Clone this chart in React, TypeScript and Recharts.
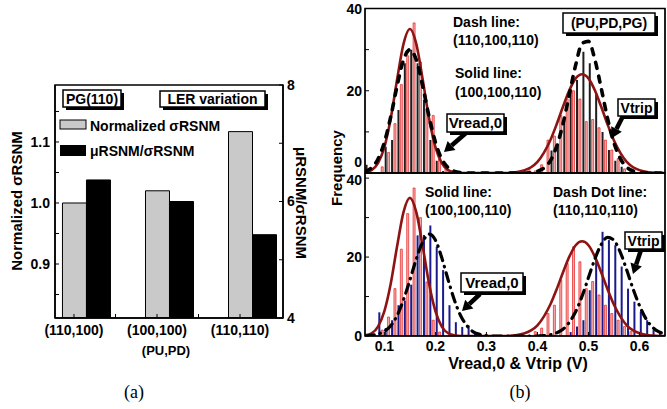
import React from "react";
import { BarChart, Bar, XAxis, YAxis, ComposedChart, Line } from "recharts";

const FONT = "'Liberation Sans', Arial, Helvetica, sans-serif";
const _ = null;

// ---- (a) normalized sigma RSNM vs. LER configuration ----
const configs = ["(110,100)", "(100,100)", "(110,110)"];
const configPos = [0, 1, 2];
const normSigma = [1.0, 1.02, 1.117];
const muOverSigma = [6.37, 6.0, 5.43];
const leftTicksA = [0.85, 0.9, 0.95, 1.0, 1.05, 1.1, 1.15];
const rightTicksA = [4, 5, 6, 7, 8];
const xTicksA = [0, 0.5, 1, 1.5, 2];

// ---- (b) histograms of Vread,0 and Vtrip ----
const vGrid = [
  0.0625, 0.075, 0.0875, 0.1, 0.1125, 0.125, 0.1375, 0.15, 0.1625, 0.175, 0.1875, 0.2,
  0.2125, 0.225, 0.2375, 0.25, 0.2625, 0.275, 0.2875, 0.3, 0.3125, 0.325, 0.3375, 0.35,
  0.3625, 0.375, 0.3875, 0.4, 0.4125, 0.425, 0.4375, 0.45, 0.4625, 0.475, 0.4875, 0.5,
  0.5125, 0.525, 0.5375, 0.55, 0.5625, 0.575, 0.5875, 0.6, 0.6125, 0.625, 0.6375, 0.65,
];
// (100,100,110) histogram, top panel
const topSolidHist = [
  _, _, _, 1.5, 5, 12, 21.5, 28.5, 36.5, 27, 15.5, 14, 4, 1, _, _, _, _, _, _, _, _, _, _,
  _, _, 1, 0.5, 2, 8, 9, 14, 18, 20, 18, 12.5, 13, 11, 8, 5.6, 3.5, 1, 0.5, _, _, _, _, _,
];
// (110,100,110) histogram, top panel
const topDashHist = [
  2, _, _, 6.4, 8, 15.3, 26.7, 30, 26.7, 17.8, 8, 3, 0.5, _, _, _, _, _, _, _, _, _, _, _,
  _, _, _, 0.3, _, 5.5, 7, 13, 20, 22.6, 29.5, 26.7, 19.4, 10, 5.6, 3, 1.5, _, _, _, _, _, _, _,
];
// (100,100,110) histogram, bottom panel
const botSolidHist = [
  _, _, _, 1.5, 4.8, 12, 22, 31, 37.5, 30, 13.7, 4, 1, _, _, _, _, _, _, _, _, _, _, _,
  _, _, _, 1.1, 2, 5.7, 7.8, 14.2, 18.4, 22.6, 18.8, 12, 13.8, 10.4, 7.8, 5.7, 4, 2.4, 1.1, _, _, _, _, _,
];
// (110,110,110) histogram, bottom panel
const botDashDotHist = [
  _, _, 6, 2, 4, 7.8, 9, 13, 25.5, 25.6, 28, 22.6, 16.7, 7.8, 3.5, 2.3, 2.7, 0.8, _, _, _, _, _, _,
  _, _, _, _, _, _, _, _, 1, 2.4, 4, 11.6, 19.2, 26.4, 24.3, 23, 17.6, 12, 8.7, 6.2, 4, 1.5, 1.1, _,
];
// fitted curves
const solidCurve = [
  0.2, 0.7, 2.4, 6.3, 13.3, 22.8, 31.4, 35, 31.4, 22.8, 13.3, 6.3, 2.4, 0.7, 0.2, 0, 0, 0, 0, 0, 0, 0, 0, 0.1,
  0.3, 0.7, 1.4, 2.7, 4.9, 7.9, 11.8, 16.1, 20.1, 23, 24, 23, 20.1, 16.1, 11.8, 7.9, 4.9, 2.7, 1.4, 0.7, 0.3, 0.1, 0, 0,
];
const topDashCurve = [
  0.4, 1.3, 3.4, 7.5, 13.7, 21.2, 27.5, 30, 27.5, 21.2, 13.7, 7.5, 3.4, 1.3, 0.4, 0.1, 0, 0, 0, 0, 0, 0, 0, 0,
  0, 0, 0.1, 0.4, 1.2, 2.9, 6.4, 11.9, 19.1, 26.3, 31.5, 32, 27.6, 20.6, 13.2, 7.3, 3.5, 1.4, 0.5, 0.1, 0, 0, 0, 0,
];
const botDashDotCurve = [
  0, 0.2, 0.5, 1.2, 2.6, 5.2, 9.2, 14.2, 19.5, 23.8, 25.8, 24.3, 19.8, 14.2, 9.0, 5.0, 2.5, 1.0, 0.4, 0.1, 0, 0, 0, 0,
  0, 0, 0, 0, 0.1, 0.3, 0.8, 1.7, 3.5, 6.2, 10.1, 14.8, 19.5, 23.2, 25, 24.2, 21.2, 16.7, 11.9, 7.7, 4.4, 2.3, 1.1, 0.5,
];
const freqTicks = [0, 10, 20, 30, 40];
const voltTicks = [0.1, 0.2, 0.3, 0.4, 0.5, 0.6];

const dataA = configPos.map((p, i) => ({ pos: p, norm: normSigma[i], ratio: muOverSigma[i] }));
const topData = vGrid.map((v, i) => ({
  v, red: topSolidHist[i], other: topDashHist[i], solid: solidCurve[i], dash: topDashCurve[i],
}));
const botData = vGrid.map((v, i) => ({
  v, red: botSolidHist[i], other: botDashDotHist[i], solid: solidCurve[i], dashdot: botDashDotCurve[i],
}));

const bold = { fontFamily: FONT, fontWeight: "bold" as const, fill: "#000" };

function GroupTick({ x, y, payload }: any) {
  const v = payload.value;
  const cx = x - 12;
  const isMajor = Number.isInteger(v);
  return (
    <g>
      <line x1={cx} x2={cx} y1={y} y2={y - 4} stroke="#000" strokeWidth={1} />
      {isMajor && (
        <text x={cx} y={y + 17} textAnchor="middle" fontSize={14} {...bold}>
          {configs[v]}
        </text>
      )}
      {v === 1 && (
        <text x={cx + 9} y={y + 37} textAnchor="middle" fontSize={13} {...bold}>
          (PU,PD)
        </text>
      )}
    </g>
  );
}

function PanelA() {
  return (
    <BarChart width={330} height={409} data={dataA} barGap={0}
      margin={{ top: 85, right: 7, bottom: 61, left: 10 }}>
      <XAxis dataKey="pos" type="number" domain={[-0.373, 2.373]} ticks={xTicksA} allowDataOverflow
        height={30} tickLine={false} tickSize={0} tickMargin={0} interval={0}
        axisLine={{ stroke: "#000", strokeWidth: 1.5 }} tick={(p: any) => <GroupTick {...p} />} />
      <YAxis yAxisId="l" width={45} domain={[0.8115, 1.1934]} ticks={leftTicksA} allowDataOverflow interval={0}
        tickSize={-4} tickMargin={9} axisLine={{ stroke: "#000", strokeWidth: 1.5 }} tickLine={{ stroke: "#000" }}
        tickFormatter={(v: number) => (Math.round(v * 100) % 10 === 0 ? v.toFixed(1) : "")}
        tick={{ fontSize: 14, ...bold }} />
      <YAxis yAxisId="r" orientation="right" width={40} domain={[4, 8]} ticks={rightTicksA} allowDataOverflow interval={0}
        tickSize={-4} tickMargin={8} axisLine={{ stroke: "#000", strokeWidth: 1.5 }} tickLine={{ stroke: "#000" }}
        tickFormatter={(v: number) => (v % 2 === 0 ? String(v) : "")}
        tick={{ fontSize: 14, ...bold }} />
      <Bar yAxisId="l" dataKey="norm" fill="#c9c9c9" stroke="#000" strokeWidth={1} barSize={24} isAnimationActive={false} />
      <Bar yAxisId="r" dataKey="ratio" fill="#000" stroke="#000" strokeWidth={1} barSize={24} isAnimationActive={false} />
    </BarChart>
  );
}

function FreqTick({ x, y, payload, lift0, lift40 }: any) {
  const v = payload.value;
  if (v % 20 !== 0) return null;
  const shift = v === 0 ? lift0 : v === 40 ? lift40 : 0;
  return (
    <text x={x} y={y - shift} dy={5} textAnchor="end" fontSize={14} {...bold}>
      {v}
    </text>
  );
}

const redBar = { fill: "#f6b0b0", stroke: "#e41d1d", strokeWidth: 0.7 };

function TopHist() {
  return (
    <ComposedChart width={337} height={180} data={topData} barGap={1.5}
      margin={{ top: 8.5, right: 1, bottom: 6, left: 15 }}>
      <XAxis dataKey="v" type="number" domain={[0.062, 0.65]} ticks={voltTicks} allowDataOverflow
        height={1} tick={false} tickSize={-4} axisLine={{ stroke: "#000" }} tickLine={{ stroke: "#000" }} />
      <YAxis width={20} domain={[0, 40]} ticks={freqTicks} allowDataOverflow interval={0}
        tickSize={-4} tickMargin={7} axisLine={{ stroke: "#000" }} tickLine={{ stroke: "#000" }}
        tick={(p: any) => <FreqTick {...p} lift0={11} lift40={0} />} />
      <YAxis yAxisId="m" orientation="right" width={1} domain={[0, 40]} ticks={freqTicks} interval={0}
        tick={false} tickSize={-4} axisLine={{ stroke: "#000" }} tickLine={{ stroke: "#000" }} />
      <Bar dataKey="red" barSize={2} {...redBar} isAnimationActive={false} />
      <Bar dataKey="other" barSize={2} fill="#1e1e1e" isAnimationActive={false} />
      <Line dataKey="solid" type="monotone" stroke="#8e1414" strokeWidth={2.6} dot={false} activeDot={false} isAnimationActive={false} />
      <Line dataKey="dash" type="monotone" stroke="#000" strokeWidth={3.6} strokeDasharray="6 8" strokeLinecap="round"
        dot={false} activeDot={false} isAnimationActive={false} />
    </ComposedChart>
  );
}

function BottomHist() {
  return (
    <ComposedChart width={337} height={239} data={botData} barGap={1.5}
      margin={{ top: 3, right: 1, bottom: 33, left: 15 }}>
      <XAxis dataKey="v" type="number" domain={[0.062, 0.65]} ticks={voltTicks} allowDataOverflow interval={0}
        height={40} tickSize={-4} tickMargin={9} axisLine={{ stroke: "#000" }} tickLine={{ stroke: "#000" }}
        tickFormatter={(v: number) => v.toFixed(1)} tick={{ fontSize: 14, ...bold }} />
      <YAxis width={20} domain={[0, 41.3]} ticks={freqTicks} allowDataOverflow interval={0}
        tickSize={-4} tickMargin={7} axisLine={{ stroke: "#000" }} tickLine={{ stroke: "#000" }}
        tick={(p: any) => <FreqTick {...p} lift0={0} lift40={-2} />} />
      <YAxis yAxisId="m" orientation="right" width={1} domain={[0, 41.3]} ticks={freqTicks} interval={0}
        tick={false} tickSize={-4} axisLine={{ stroke: "#000" }} tickLine={{ stroke: "#000" }} />
      <Bar dataKey="red" barSize={2} {...redBar} isAnimationActive={false} />
      <Bar dataKey="other" barSize={2} fill="#1a1a8c" isAnimationActive={false} />
      <Line dataKey="solid" type="monotone" stroke="#8e1414" strokeWidth={2.6} dot={false} activeDot={false} isAnimationActive={false} />
      <Line dataKey="dashdot" type="monotone" stroke="#000" strokeWidth={3.2} strokeDasharray="9 6 0.5 6" strokeLinecap="round"
        dot={false} activeDot={false} isAnimationActive={false} />
    </ComposedChart>
  );
}

function Box({ x, y, w, h, text, fs = 14 }: any) {
  return (
    <g>
      <rect x={x + 3} y={y + 3} width={w} height={h} fill="#000" />
      <rect x={x} y={y} width={w} height={h} fill="#fff" stroke="#000" strokeWidth={1.5} />
      <text x={x + w / 2} y={y + h / 2 + fs * 0.36} textAnchor="middle" fontSize={fs} {...bold}>{text}</text>
    </g>
  );
}

function Arrow({ x1, y1, x2, y2 }: any) {
  const a = Math.atan2(y2 - y1, x2 - x1);
  const hl = 10, hw = 6;
  const bx = x2 - hl * Math.cos(a), by = y2 - hl * Math.sin(a);
  const px = -Math.sin(a) * hw, py = Math.cos(a) * hw;
  return (
    <g>
      <line x1={x1} y1={y1} x2={bx} y2={by} stroke="#000" strokeWidth={4.5} />
      <polygon points={`${x2},${y2} ${bx + px},${by + py} ${bx - px},${by - py}`} fill="#000" />
    </g>
  );
}

function Overlay() {
  return (
    <svg width={667} height={409} style={{ position: "absolute", left: 0, top: 0, pointerEvents: "none" }}>
      {/* frames */}
      <rect x={55} y={85} width={228} height={233} fill="none" stroke="#000" strokeWidth={1.5} />
      <rect x={365} y={8.5} width={300} height={164.5} fill="none" stroke="#000" strokeWidth={1.5} />
      <rect x={365} y={173} width={300} height={163} fill="none" stroke="#000" strokeWidth={1.5} />

      {/* (a) labels */}
      <text transform="translate(22,201) rotate(-90)" textAnchor="middle" fontSize={15} {...bold}>Normalized σRSNM</text>
      <text transform="translate(296,203) rotate(90)" textAnchor="middle" fontSize={15} {...bold}>μRSNM/σRSNM</text>
      <Box x={63} y={90} w={58} h={17} text="PG(110)" />
      <Box x={160} y={91} w={105} h={16} text="LER variation" />
      <rect x={60} y={120} width={26} height={9} fill="#c9c9c9" stroke="#000" />
      <text x={90} y={131} fontSize={14} {...bold}>Normalized σRSNM</text>
      <rect x={60} y={145} width={26} height={11} fill="#000" />
      <text x={90} y={156} fontSize={14} {...bold}>μRSNM/σRSNM</text>

      {/* (b) labels */}
      <text transform="translate(342,168) rotate(-90)" textAnchor="middle" fontSize={15} {...bold}>Frequency</text>
      <text x={518} y={369} textAnchor="middle" fontSize={16} {...bold}>Vread,0 &amp; Vtrip (V)</text>
      <text x={453} y={27} fontSize={14} {...bold}>Dash line:</text>
      <text x={453} y={45} fontSize={14} {...bold}>(110,100,110)</text>
      <text x={455} y={78} fontSize={14} {...bold}>Solid line:</text>
      <text x={455} y={97} fontSize={14} {...bold}>(100,100,110)</text>
      <Box x={563} y={13} w={92} h={20} text="(PU,PD,PG)" />
      <Arrow x1={623} y1={116} x2={612} y2={138} />
      <Box x={618} y={99} w={37} h={17} text="Vtrip" />
      <Arrow x1={466} y1={133} x2={444} y2={152} />
      <Box x={447} y={114} w={57} h={18} text="Vread,0" fs={15} />

      <text x={425} y={197} fontSize={14} {...bold}>Solid line:</text>
      <text x={425} y={215} fontSize={14} {...bold}>(100,100,110)</text>
      <text x={553} y={197} fontSize={14} {...bold}>Dash Dot line:</text>
      <text x={553} y={215} fontSize={14} {...bold}>(110,110,110)</text>
      <Arrow x1={641} y1={250} x2={633} y2={274} />
      <Box x={625} y={232} w={37} h={17} text="Vtrip" />
      <Arrow x1={480} y1={294} x2={462} y2={311} />
      <Box x={461} y={273} w={62} h={19} text="Vread,0" fs={15} />

      {/* captions */}
      <text x={134} y={398} textAnchor="middle" fontSize={18} fontFamily="'Liberation Serif', 'Times New Roman', serif" fill="#000">(a)</text>
      <text x={520} y={398} textAnchor="middle" fontSize={18} fontFamily="'Liberation Serif', 'Times New Roman', serif" fill="#000">(b)</text>
    </svg>
  );
}

export default function App() {
  return (
    <div style={{ position: "absolute", left: 0, top: 0, width: 667, height: 409, background: "#fff", overflow: "hidden" }}>
      <div style={{ position: "absolute", left: 0, top: 0 }}><PanelA /></div>
      <div style={{ position: "absolute", left: 330, top: 0 }}><TopHist /></div>
      <div style={{ position: "absolute", left: 330, top: 170 }}><BottomHist /></div>
      <Overlay />
    </div>
  );
}
